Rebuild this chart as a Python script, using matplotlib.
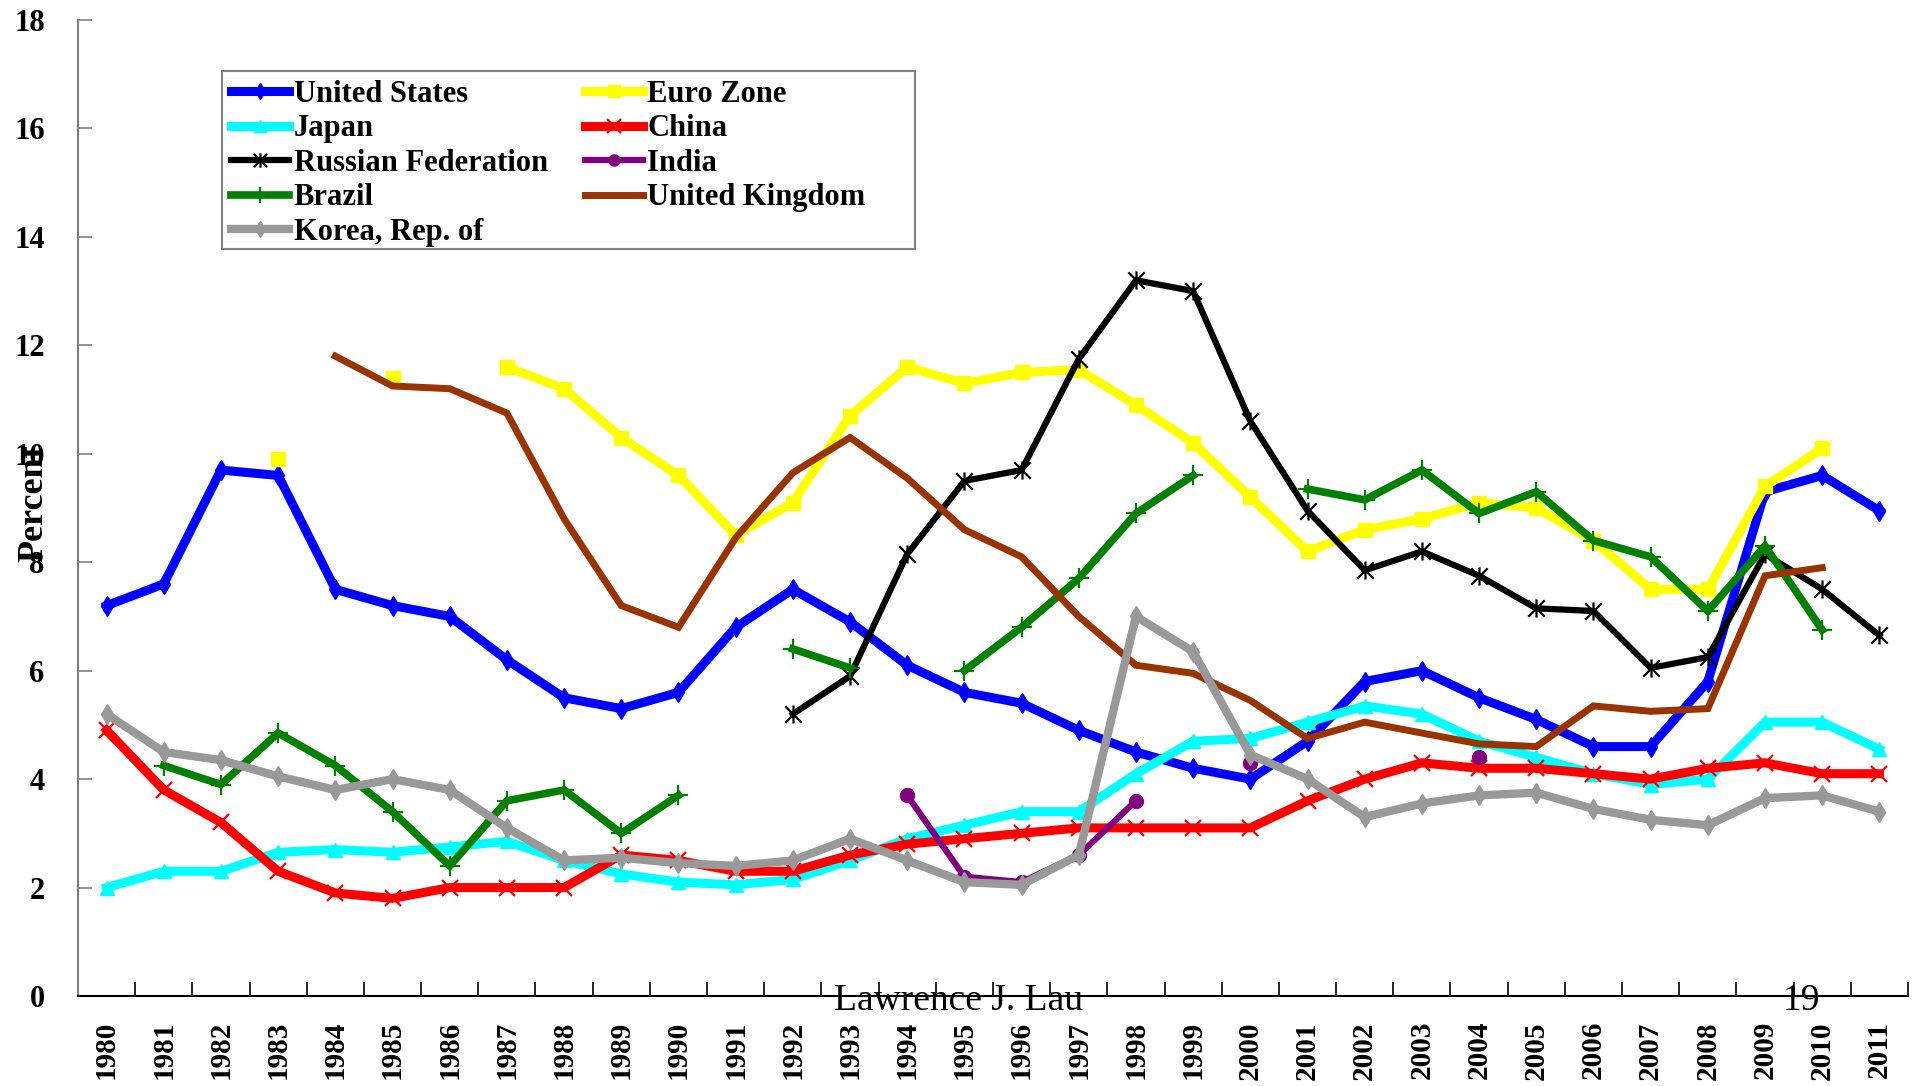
"""
Unemployment rates of selected economies, 1980-2011
"""

import numpy as np
import matplotlib
matplotlib.use('Agg')
import matplotlib.pyplot as plt
from matplotlib.path import Path
from matplotlib.patches import Rectangle

plt.rcParams['font.family'] = ['Liberation Serif', 'DejaVu Serif']

nan = np.nan
years = list(range(1980, 2012))

united_states = [7.2, 7.6, 9.7, 9.6, 7.5, 7.2, 7.0, 6.2, 5.5, 5.3, 5.6, 6.8, 7.5, 6.9, 6.1, 5.6,
                 5.4, 4.9, 4.5, 4.2, 4.0, 4.7, 5.8, 6.0, 5.5, 5.1, 4.6, 4.6, 5.8, 9.3, 9.6, 8.95]
euro_zone = [nan, nan, nan, 9.9, nan, 11.4, nan, 11.6, 11.2, 10.3, 9.6, 8.5, 9.1, 10.7, 11.6, 11.3,
             11.5, 11.55, 10.9, 10.2, 9.2, 8.2, 8.6, 8.8, 9.1, 9.0, 8.4, 7.5, 7.5, 9.4, 10.1, nan]
japan = [2.0, 2.3, 2.3, 2.65, 2.7, 2.65, 2.75, 2.85, 2.5, 2.25, 2.1, 2.05, 2.15, 2.5, 2.9, 3.15,
         3.4, 3.4, 4.1, 4.7, 4.75, 5.05, 5.35, 5.2, 4.7, 4.4, 4.1, 3.9, 4.0, 5.05, 5.05, 4.55]
china = [4.9, 3.8, 3.2, 2.3, 1.9, 1.8, 2.0, 2.0, 2.0, 2.6, 2.5, 2.3, 2.3, 2.6, 2.8, 2.9,
         3.0, 3.1, 3.1, 3.1, 3.1, 3.6, 4.0, 4.3, 4.2, 4.2, 4.1, 4.0, 4.2, 4.3, 4.1, 4.1]
russia = [nan, nan, nan, nan, nan, nan, nan, nan, nan, nan, nan, nan, 5.2, 5.9, 8.15, 9.5,
          9.7, 11.75, 13.2, 13.0, 10.6, 8.95, 7.85, 8.2, 7.75, 7.15, 7.1, 6.05, 6.25, 8.15, 7.5, 6.65]
india = [nan, nan, nan, nan, nan, nan, nan, nan, nan, nan, nan, nan, nan, nan, 3.7, 2.2,
         2.1, 2.6, 3.6, nan, 4.3, nan, nan, nan, 4.4, nan, nan, nan, nan, nan, nan, nan]
brazil = [nan, 4.25, 3.9, 4.85, 4.25, 3.4, 2.4, 3.6, 3.8, 3.0, 3.7, nan, 6.4, 6.05, nan, 6.0,
          6.8, 7.7, 8.9, 9.6, nan, 9.35, 9.15, 9.7, 8.9, 9.3, 8.4, 8.1, 7.1, 8.3, 6.75, nan]
united_kingdom = [nan, nan, nan, nan, 11.8, 11.25, 11.2, 10.75, 8.8, 7.2, 6.8, 8.45, 9.65, 10.3, 9.55, 8.6,
                  8.1, 7.0, 6.1, 5.95, 5.45, 4.75, 5.05, 4.85, 4.65, 4.6, 5.35, 5.25, 5.3, 7.75, 7.9, nan]
korea = [5.2, 4.5, 4.35, 4.05, 3.8, 4.0, 3.8, 3.1, 2.5, 2.55, 2.45, 2.4, 2.5, 2.9, 2.5, 2.1,
         2.05, 2.6, 7.0, 6.35, 4.45, 4.0, 3.3, 3.55, 3.7, 3.75, 3.45, 3.25, 3.15, 3.65, 3.7, 3.4]

# Excel-style star: an X with a vertical bar
star = Path([(-1, -1), (1, 1), (-1, 1), (1, -1), (0, -1.1), (0, 1.1)],
            [Path.MOVETO, Path.LINETO] * 3)

series = [
    ('United States', united_states, '#0000FF', 'd', 10, 6.5),
    ('Euro Zone', euro_zone, '#FFFF00', 's', 10, 6.5),
    ('Japan', japan, '#00FFFF', '^', 10, 6.5),
    ('China', china, '#FF0000', 'x', 12, 6.5),
    ('Russian Federation', russia, '#000000', star, 13, 4.5),
    ('India', india, '#800080', 'o', 10, 4.5),
    ('Brazil', brazil, '#008000', '+', 14, 5.5),
    ('United Kingdom', united_kingdom, '#993300', 'None', 0, 5),
    ('Korea, Rep. of', korea, '#999999', 'd', 10, 6),
]

fig = plt.figure(figsize=(19.15, 10.86), dpi=100)
ax = fig.add_axes([78 / 1915, 90 / 1086, 1830 / 1915, 976 / 1086])

x = np.arange(len(years))
lines = {}
for name, values, color, marker, msize, lw in series:
    mew = 1.6 if marker in ('x', '+') or marker is star else 1.0
    ln, = ax.plot(x, values, color=color, linewidth=lw, marker=marker, markersize=msize,
                  markeredgewidth=mew, markeredgecolor=color, label=name,
                  solid_joinstyle='miter')
    lines[name] = ln

ax.set_xlim(-0.5, len(years) - 0.5)
ax.set_ylim(0, 18)
ax.set_yticks(range(0, 19, 2))
ax.set_xticks(x)
ax.set_xticklabels([str(y) for y in years], rotation=90, fontsize=21, fontweight='bold')
ax.set_xticks(np.arange(-0.5, len(years), 1), minor=True)
ax.tick_params(axis='x', which='major', length=0, pad=18)
ax.tick_params(axis='x', which='minor', direction='in', length=10, width=1.2, color='black')
ax.tick_params(axis='y', direction='in', length=10, width=1.2, color='#808080', pad=24,
               labelsize=22)
for lbl in ax.get_yticklabels():
    lbl.set_fontweight('bold')

ax.spines['top'].set_visible(False)
ax.spines['right'].set_visible(False)
ax.spines['left'].set_color('#808080')
ax.spines['left'].set_linewidth(1.5)
ax.spines['bottom'].set_color('black')
ax.spines['bottom'].set_linewidth(1.5)

ax.set_ylabel('Percent', fontsize=26, fontweight='bold')
ax.yaxis.set_label_coords(-0.015, 0.505)

# legend: matplotlib fills columns first
order = ['United States', 'Japan', 'Russian Federation', 'Brazil', 'Korea, Rep. of',
         'Euro Zone', 'China', 'India', 'United Kingdom']
leg = ax.legend([lines[n] for n in order], order, ncol=2, loc='upper left',
                bbox_to_anchor=(0.0787, 0.948), borderaxespad=0, frameon=False,
                prop={'family': 'Liberation Serif', 'weight': 'bold', 'size': 22},
                handlelength=1.9, handletextpad=0.15, columnspacing=1.2,
                labelspacing=0.18, borderpad=0.3, markerscale=0.8)

# legend box drawn by hand (the original has extra room on the right)
fig.patches.append(Rectangle((222 / 1915, 1 - 249 / 1086), 693 / 1915, 178 / 1086,
                             transform=fig.transFigure, fill=False,
                             edgecolor='#808080', linewidth=1.5))

fig.text(959 / 1915, 1 - 1001 / 1086, 'Lawrence J. Lau', fontsize=27, ha='center', va='center')
fig.text(1802 / 1915, 1 - 1001 / 1086, '19', fontsize=27, ha='center', va='center')

plt.savefig('out.png', dpi=100)
plt.close()
